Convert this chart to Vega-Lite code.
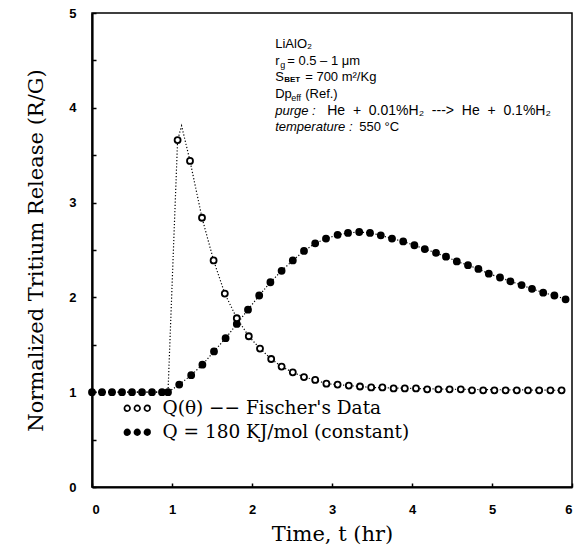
{
  "$schema": "https://vega.github.io/schema/vega-lite/v6.json",
  "width": 480,
  "height": 474,
  "autosize": {"type": "none"},
  "padding": {"left": 92, "top": 13, "right": 5, "bottom": 60},
  "background": "white",
  "config": {
    "view": {"stroke": "black", "strokeWidth": 1.5},
    "axis": {
      "domainColor": "black", "domainWidth": 2.2, "tickColor": "black", "tickWidth": 1.5,
      "grid": false, "labelFont": "Liberation Sans", "labelFontWeight": "bold", "labelFontSize": 13,
      "labelColor": "black", "titleFont": "DejaVu Serif", "titleFontWeight": "normal", "titleFontSize": 21, "titleColor": "black"
    }
  },
  "datasets": {
    "pts": [
      {"t": 0, "v": 1.0, "s": "Q = 180 KJ/mol (constant)"},
      {"t": 0.125, "v": 1.0, "s": "Q = 180 KJ/mol (constant)"},
      {"t": 0.25, "v": 1.0, "s": "Q = 180 KJ/mol (constant)"},
      {"t": 0.375, "v": 1.0, "s": "Q = 180 KJ/mol (constant)"},
      {"t": 0.5, "v": 1.0, "s": "Q = 180 KJ/mol (constant)"},
      {"t": 0.625, "v": 1.0, "s": "Q = 180 KJ/mol (constant)"},
      {"t": 0.75, "v": 1.0, "s": "Q = 180 KJ/mol (constant)"},
      {"t": 0.875, "v": 1.0, "s": "Q = 180 KJ/mol (constant)"},
      {"t": 0.95, "v": 1.0, "s": "Q = 180 KJ/mol (constant)"},
      {"t": 1.09, "v": 1.08, "s": "Q = 180 KJ/mol (constant)"},
      {"t": 1.24, "v": 1.18, "s": "Q = 180 KJ/mol (constant)"},
      {"t": 1.38, "v": 1.29, "s": "Q = 180 KJ/mol (constant)"},
      {"t": 1.525, "v": 1.43, "s": "Q = 180 KJ/mol (constant)"},
      {"t": 1.67, "v": 1.57, "s": "Q = 180 KJ/mol (constant)"},
      {"t": 1.81, "v": 1.72, "s": "Q = 180 KJ/mol (constant)"},
      {"t": 1.95, "v": 1.87, "s": "Q = 180 KJ/mol (constant)"},
      {"t": 2.09, "v": 2.02, "s": "Q = 180 KJ/mol (constant)"},
      {"t": 2.23, "v": 2.16, "s": "Q = 180 KJ/mol (constant)"},
      {"t": 2.37, "v": 2.28, "s": "Q = 180 KJ/mol (constant)"},
      {"t": 2.51, "v": 2.39, "s": "Q = 180 KJ/mol (constant)"},
      {"t": 2.65, "v": 2.49, "s": "Q = 180 KJ/mol (constant)"},
      {"t": 2.79, "v": 2.57, "s": "Q = 180 KJ/mol (constant)"},
      {"t": 2.925, "v": 2.62, "s": "Q = 180 KJ/mol (constant)"},
      {"t": 3.07, "v": 2.66, "s": "Q = 180 KJ/mol (constant)"},
      {"t": 3.2, "v": 2.68, "s": "Q = 180 KJ/mol (constant)"},
      {"t": 3.34, "v": 2.69, "s": "Q = 180 KJ/mol (constant)"},
      {"t": 3.475, "v": 2.68, "s": "Q = 180 KJ/mol (constant)"},
      {"t": 3.61, "v": 2.655, "s": "Q = 180 KJ/mol (constant)"},
      {"t": 3.75, "v": 2.62, "s": "Q = 180 KJ/mol (constant)"},
      {"t": 3.89, "v": 2.59, "s": "Q = 180 KJ/mol (constant)"},
      {"t": 4.03, "v": 2.55, "s": "Q = 180 KJ/mol (constant)"},
      {"t": 4.16, "v": 2.51, "s": "Q = 180 KJ/mol (constant)"},
      {"t": 4.3, "v": 2.47, "s": "Q = 180 KJ/mol (constant)"},
      {"t": 4.425, "v": 2.43, "s": "Q = 180 KJ/mol (constant)"},
      {"t": 4.56, "v": 2.38, "s": "Q = 180 KJ/mol (constant)"},
      {"t": 4.7, "v": 2.34, "s": "Q = 180 KJ/mol (constant)"},
      {"t": 4.83, "v": 2.3, "s": "Q = 180 KJ/mol (constant)"},
      {"t": 4.96, "v": 2.25, "s": "Q = 180 KJ/mol (constant)"},
      {"t": 5.1, "v": 2.21, "s": "Q = 180 KJ/mol (constant)"},
      {"t": 5.23, "v": 2.17, "s": "Q = 180 KJ/mol (constant)"},
      {"t": 5.37, "v": 2.13, "s": "Q = 180 KJ/mol (constant)"},
      {"t": 5.5, "v": 2.09, "s": "Q = 180 KJ/mol (constant)"},
      {"t": 5.64, "v": 2.05, "s": "Q = 180 KJ/mol (constant)"},
      {"t": 5.78, "v": 2.02, "s": "Q = 180 KJ/mol (constant)"},
      {"t": 5.92, "v": 1.98, "s": "Q = 180 KJ/mol (constant)"},
      {"t": 1.07, "v": 3.66, "s": "Q(θ) −− Fischer's Data"},
      {"t": 1.225, "v": 3.44, "s": "Q(θ) −− Fischer's Data"},
      {"t": 1.375, "v": 2.84, "s": "Q(θ) −− Fischer's Data"},
      {"t": 1.52, "v": 2.39, "s": "Q(θ) −− Fischer's Data"},
      {"t": 1.66, "v": 2.04, "s": "Q(θ) −− Fischer's Data"},
      {"t": 1.81, "v": 1.78, "s": "Q(θ) −− Fischer's Data"},
      {"t": 1.96, "v": 1.59, "s": "Q(θ) −− Fischer's Data"},
      {"t": 2.1, "v": 1.46, "s": "Q(θ) −− Fischer's Data"},
      {"t": 2.24, "v": 1.35, "s": "Q(θ) −− Fischer's Data"},
      {"t": 2.37, "v": 1.27, "s": "Q(θ) −− Fischer's Data"},
      {"t": 2.51, "v": 1.21, "s": "Q(θ) −− Fischer's Data"},
      {"t": 2.65, "v": 1.16, "s": "Q(θ) −− Fischer's Data"},
      {"t": 2.79, "v": 1.13, "s": "Q(θ) −− Fischer's Data"},
      {"t": 2.93, "v": 1.09, "s": "Q(θ) −− Fischer's Data"},
      {"t": 3.07, "v": 1.08, "s": "Q(θ) −− Fischer's Data"},
      {"t": 3.21, "v": 1.07, "s": "Q(θ) −− Fischer's Data"},
      {"t": 3.35, "v": 1.06, "s": "Q(θ) −− Fischer's Data"},
      {"t": 3.49, "v": 1.05, "s": "Q(θ) −− Fischer's Data"},
      {"t": 3.63, "v": 1.05, "s": "Q(θ) −− Fischer's Data"},
      {"t": 3.77, "v": 1.04, "s": "Q(θ) −− Fischer's Data"},
      {"t": 3.91, "v": 1.04, "s": "Q(θ) −− Fischer's Data"},
      {"t": 4.05, "v": 1.04, "s": "Q(θ) −− Fischer's Data"},
      {"t": 4.19, "v": 1.03, "s": "Q(θ) −− Fischer's Data"},
      {"t": 4.33, "v": 1.03, "s": "Q(θ) −− Fischer's Data"},
      {"t": 4.47, "v": 1.03, "s": "Q(θ) −− Fischer's Data"},
      {"t": 4.61, "v": 1.03, "s": "Q(θ) −− Fischer's Data"},
      {"t": 4.75, "v": 1.02, "s": "Q(θ) −− Fischer's Data"},
      {"t": 4.89, "v": 1.02, "s": "Q(θ) −− Fischer's Data"},
      {"t": 5.03, "v": 1.02, "s": "Q(θ) −− Fischer's Data"},
      {"t": 5.17, "v": 1.02, "s": "Q(θ) −− Fischer's Data"},
      {"t": 5.31, "v": 1.02, "s": "Q(θ) −− Fischer's Data"},
      {"t": 5.45, "v": 1.02, "s": "Q(θ) −− Fischer's Data"},
      {"t": 5.59, "v": 1.02, "s": "Q(θ) −− Fischer's Data"},
      {"t": 5.73, "v": 1.02, "s": "Q(θ) −− Fischer's Data"},
      {"t": 5.87, "v": 1.02, "s": "Q(θ) −− Fischer's Data"}
    ],
    "fline": [
      {"t": 0, "v": 1.0}, {"t": 0.95, "v": 1.0}, {"t": 1.07, "v": 3.66}, {"t": 1.12, "v": 3.81},
      {"t": 1.225, "v": 3.44}, {"t": 1.375, "v": 2.84}, {"t": 1.52, "v": 2.39}, {"t": 1.66, "v": 2.04},
      {"t": 1.81, "v": 1.78}, {"t": 1.96, "v": 1.59}, {"t": 2.1, "v": 1.46}, {"t": 2.24, "v": 1.35},
      {"t": 2.37, "v": 1.27}, {"t": 2.51, "v": 1.21}, {"t": 2.65, "v": 1.16}, {"t": 2.79, "v": 1.13},
      {"t": 2.93, "v": 1.09}, {"t": 3.07, "v": 1.08}, {"t": 3.21, "v": 1.07}, {"t": 3.35, "v": 1.06},
      {"t": 3.49, "v": 1.05}, {"t": 4.0, "v": 1.04}, {"t": 4.6, "v": 1.03}, {"t": 5.87, "v": 1.02}
    ],
    "one": [{}]
  },
  "layer": [
    {
      "data": {"name": "fline"},
      "mark": {"type": "line", "color": "black", "strokeWidth": 1.2, "strokeDash": [1.2, 2]},
      "encoding": {
        "x": {"field": "t", "type": "quantitative", "scale": {"domain": [0, 6], "nice": false},
          "axis": {"values": [0, 1, 2, 3, 4, 5, 6], "format": "d", "tickSize": -4, "labelPadding": 20, "labelDx": 3, "title": "Time, t (hr)", "titlePadding": 7}},
        "y": {"field": "v", "type": "quantitative", "scale": {"domain": [0, 5], "nice": false},
          "axis": {"values": [0, 0.5, 1, 1.5, 2, 2.5, 3, 3.5, 4, 4.5, 5], "labelExpr": "datum.value % 1 == 0 ? format(datum.value, 'd') : ''", "tickSize": -4, "labelPadding": 20, "title": "Normalized Tritium Release (R/G)", "titlePadding": 22}}
      }
    },
    {
      "data": {"name": "pts"},
      "transform": [{"filter": "datum.s == 'Q = 180 KJ/mol (constant)'"}],
      "mark": {"type": "line", "color": "black", "strokeWidth": 1.2, "strokeDash": [1.2, 2]},
      "encoding": {
        "x": {"field": "t", "type": "quantitative"},
        "y": {"field": "v", "type": "quantitative"}
      }
    },
    {
      "data": {"name": "pts"},
      "mark": {"type": "point", "filled": true, "stroke": "black", "strokeWidth": 1.8, "opacity": 1, "size": 36},
      "encoding": {
        "x": {"field": "t", "type": "quantitative"},
        "y": {"field": "v", "type": "quantitative"},
        "fill": {"field": "s", "type": "nominal",
          "scale": {"domain": ["Q(θ) −− Fischer's Data", "Q = 180 KJ/mol (constant)"], "range": ["white", "black"]},
          "legend": {"title": null, "orient": "none", "legendX": 36, "legendY": 386,
            "symbolType": "M -1.8 0 A 0.7 0.7 0 1 1 -3.2 0 A 0.7 0.7 0 1 1 -1.8 0 Z M 0.7 0 A 0.7 0.7 0 1 1 -0.7 0 A 0.7 0.7 0 1 1 0.7 0 Z M 3.2 0 A 0.7 0.7 0 1 1 1.8 0 A 0.7 0.7 0 1 1 3.2 0 Z",
            "symbolSize": 64, "symbolStrokeColor": "black", "symbolStrokeWidth": 1.7,
            "labelFont": "DejaVu Serif", "labelFontSize": 18.5, "labelColor": "black", "labelOffset": 16, "rowPadding": 5, "labelLimit": 400}}
      }
    },
    {"data": {"name": "one"}, "mark": {"type": "text", "align": "left", "baseline": "middle", "font": "Liberation Sans", "fontSize": 13},
     "encoding": {"x": {"datum": 2.29}, "y": {"datum": 4.673}, "text": {"value": "LiAlO₂"}}},
    {"data": {"name": "one"}, "mark": {"type": "text", "align": "left", "baseline": "middle", "font": "Liberation Sans", "fontSize": 13},
     "encoding": {"x": {"datum": 2.29}, "y": {"datum": 4.494}, "text": {"value": "r"}}},
    {"data": {"name": "one"}, "mark": {"type": "text", "align": "left", "baseline": "middle", "font": "Liberation Sans", "fontSize": 9, "dx": 5, "dy": 4},
     "encoding": {"x": {"datum": 2.29}, "y": {"datum": 4.494}, "text": {"value": "g"}}},
    {"data": {"name": "one"}, "mark": {"type": "text", "align": "left", "baseline": "middle", "font": "Liberation Sans", "fontSize": 13, "dx": 12},
     "encoding": {"x": {"datum": 2.29}, "y": {"datum": 4.494}, "text": {"value": "= 0.5 – 1 μm"}}},
    {"data": {"name": "one"}, "mark": {"type": "text", "align": "left", "baseline": "middle", "font": "Liberation Sans", "fontSize": 13},
     "encoding": {"x": {"datum": 2.29}, "y": {"datum": 4.325}, "text": {"value": "S"}}},
    {"data": {"name": "one"}, "mark": {"type": "text", "align": "left", "baseline": "middle", "font": "Liberation Sans", "fontSize": 8, "fontWeight": "bold", "dx": 9, "dy": 3},
     "encoding": {"x": {"datum": 2.29}, "y": {"datum": 4.325}, "text": {"value": "BET"}}},
    {"data": {"name": "one"}, "mark": {"type": "text", "align": "left", "baseline": "middle", "font": "Liberation Sans", "fontSize": 13, "dx": 30},
     "encoding": {"x": {"datum": 2.29}, "y": {"datum": 4.325}, "text": {"value": "= 700 m²/Kg"}}},
    {"data": {"name": "one"}, "mark": {"type": "text", "align": "left", "baseline": "middle", "font": "Liberation Sans", "fontSize": 13},
     "encoding": {"x": {"datum": 2.29}, "y": {"datum": 4.146}, "text": {"value": "Dp"}}},
    {"data": {"name": "one"}, "mark": {"type": "text", "align": "left", "baseline": "middle", "font": "Liberation Sans", "fontSize": 9, "dx": 16, "dy": 4},
     "encoding": {"x": {"datum": 2.29}, "y": {"datum": 4.146}, "text": {"value": "eff"}}},
    {"data": {"name": "one"}, "mark": {"type": "text", "align": "left", "baseline": "middle", "font": "Liberation Sans", "fontSize": 13, "dx": 30},
     "encoding": {"x": {"datum": 2.29}, "y": {"datum": 4.146}, "text": {"value": "(Ref.)"}}},
    {"data": {"name": "one"}, "mark": {"type": "text", "align": "left", "baseline": "middle", "font": "Liberation Sans", "fontSize": 13, "fontStyle": "italic"},
     "encoding": {"x": {"datum": 2.29}, "y": {"datum": 3.966}, "text": {"value": "purge :"}}},
    {"data": {"name": "one"}, "mark": {"type": "text", "align": "left", "baseline": "middle", "font": "Liberation Sans", "fontSize": 14, "dx": 52},
     "encoding": {"x": {"datum": 2.29}, "y": {"datum": 3.966}, "text": {"value": "He\u00a0\u00a0+\u00a0\u00a00.01%H₂\u00a0\u00a0--->\u00a0\u00a0He\u00a0\u00a0+\u00a0\u00a00.1%H₂"}}},
    {"data": {"name": "one"}, "mark": {"type": "text", "align": "left", "baseline": "middle", "font": "Liberation Sans", "fontSize": 13, "fontStyle": "italic"},
     "encoding": {"x": {"datum": 2.29}, "y": {"datum": 3.797}, "text": {"value": "temperature :"}}},
    {"data": {"name": "one"}, "mark": {"type": "text", "align": "left", "baseline": "middle", "font": "Liberation Sans", "fontSize": 13, "dx": 84},
     "encoding": {"x": {"datum": 2.29}, "y": {"datum": 3.797}, "text": {"value": "550 °C"}}}
  ]
}
